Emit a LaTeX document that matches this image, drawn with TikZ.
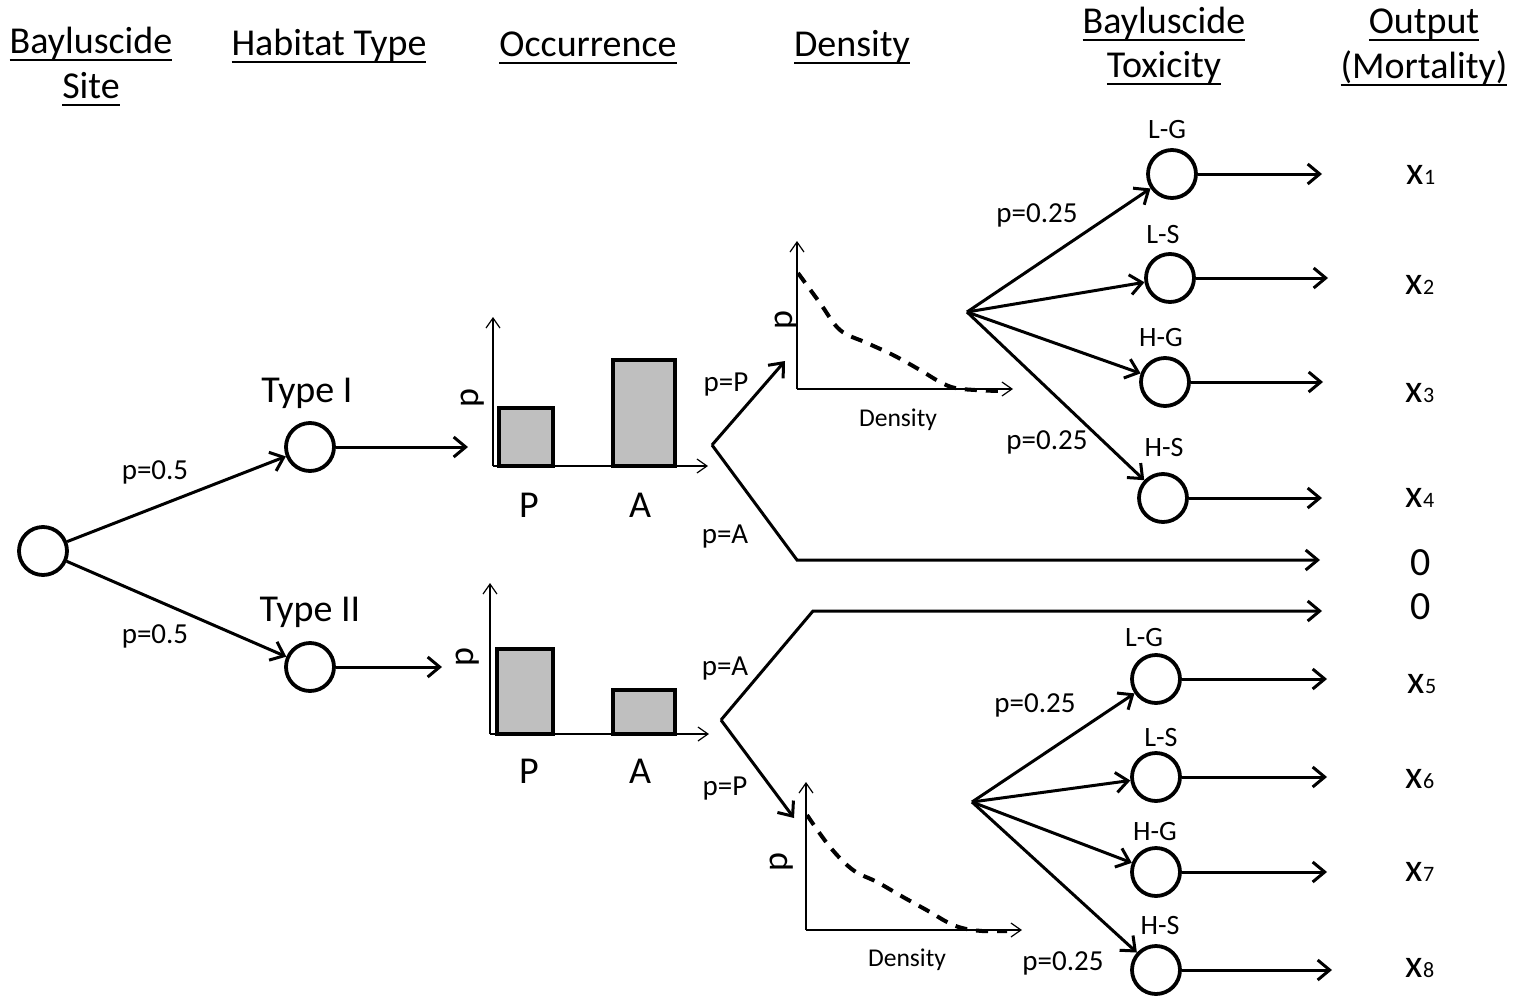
\documentclass[tikz,border=0pt]{standalone}
\usepackage{fontspec}
\setmainfont{Carlito}
\usetikzlibrary{arrows.meta}
\definecolor{barfill}{HTML}{BFBFBF}
\newcommand\myul[1]{\leavevmode\setbox0=\hbox{#1}\rlap{\rule[-0.22em]{\wd0}{1.2pt}}\box0}
\begin{document}
\begin{tikzpicture}[x=0.5pt,y=-0.5pt,
  state/.style={circle,draw,line width=1.9pt,minimum size=24pt,inner sep=0pt},
  conn/.style={line width=1.5pt,-{Straight Barb[length=6pt,width=10pt,line width=1.5pt]}},
  plain/.style={line width=1.5pt},
  axis/.style={line width=0.6pt,-{Straight Barb[length=5pt,width=7pt]}},
  bar/.style={draw,line width=2pt,fill=barfill},
  curve/.style={line width=2pt,dash pattern=on 6pt off 4.5pt},
  hdr/.style={font=\fontsize{19}{22}\selectfont,anchor=base,inner sep=0pt},
  big/.style={font=\fontsize{19}{22}\selectfont},
  zero/.style={font=\fontsize{20}{22}\selectfont},
  plab/.style={font=\fontsize{14.5}{16}\selectfont},
  tlab/.style={font=\fontsize{14}{16}\selectfont},
  small/.style={font=\fontsize{12.8}{14}\selectfont},
  ylab/.style={font=\fontsize{18}{20}\selectfont,rotate=90}
]
\useasboundingbox (0,0) rectangle (1516,996);

% headers
\node[hdr] (h1a) at (91,53) {\myul{Bayluscide}};
\node[hdr] (h1b) at (91,98) {\myul{Site}};
\node[hdr] (h2) at (329,55) {\myul{Habitat Type}};
\node[hdr] (h3) at (588,56) {\myul{Occurrence}};
\node[hdr] (h4) at (852,56) {\myul{Density}};
\node[hdr] (h5a) at (1164,33) {\myul{Bayluscide}};
\node[hdr] (h5b) at (1164,77) {\myul{Toxicity}};
\node[hdr] (h6a) at (1424,33) {\myul{Output}};
\node[hdr] (h6b) at (1424,78) {\myul{(Mortality)}};

% root and habitat
\node[state] (root) at (43,551) {};
\node[state] (t1) at (310,447) {};
\node[state] (t2) at (310,667) {};
\node[big] (t1l) at (307,393) {Type I};
\node[big] (t2l) at (310,612) {Type II};
\draw[conn] (root) -- (t1);
\draw[conn] (root) -- (t2);
\node[plab] (p05a) at (155,472) {p=0.5};
\node[plab] (p05b) at (155,636) {p=0.5};
\coordinate (o1) at (468,447);
\coordinate (o2) at (442,667);
\draw[conn] (t1) -- (o1);
\draw[conn] (t2) -- (o2);

% top bar chart
\draw[bar] (499,408) rectangle (553,466);
\draw[bar] (613,360) rectangle (675,466);
\coordinate (ba1) at (493,466);
\coordinate (ba1y) at (493,317);
\coordinate (ba1x) at (708,466);
\draw[axis] (ba1) -- (ba1y);
\draw[axis] (ba1) -- (ba1x);
\node[ylab] (bp1) at (473,398) {p};
\node[big] (bP1) at (529,505) {P};
\node[big] (bA1) at (640,505) {A};

% bottom bar chart
\draw[bar] (497,649) rectangle (553,734);
\draw[bar] (613,690) rectangle (675,734);
\coordinate (ba2) at (490,734);
\coordinate (ba2y) at (490,583);
\coordinate (ba2x) at (709,734);
\draw[axis] (ba2) -- (ba2y);
\draw[axis] (ba2) -- (ba2x);
\node[ylab] (bp2) at (468,657) {p};
\node[big] (bP2) at (529,771) {P};
\node[big] (bA2) at (640,771) {A};

% occurrence forks
\coordinate (f1) at (712,445);
\coordinate (d1) at (785,361);
\coordinate (c1) at (797,560);
\coordinate (z1) at (1320,560);
\draw[conn] (f1) -- (d1);
\draw[conn] (f1) -- (c1) -- (z1);
\node[plab] (pP1) at (726,385) {p=P};
\node[plab] (pA1) at (725,537) {p=A};

\coordinate (f2) at (721,720);
\coordinate (c2) at (813,611);
\coordinate (z2) at (1322,611);
\coordinate (d2) at (794,818);
\draw[conn] (f2) -- (c2) -- (z2);
\draw[conn] (f2) -- (d2);
\node[plab] (pA2) at (725,669) {p=A};
\node[plab] (pP2) at (725,789) {p=P};

% top density chart
\coordinate (da1) at (797,389);
\coordinate (da1y) at (797,241);
\coordinate (da1x) at (1013,389);
\draw[axis] (da1) -- (da1y);
\draw[axis] (da1) -- (da1x);
\draw[curve] plot[smooth,tension=0.6] coordinates {(798,273) (820,303) (840,330) (867,343) (893,355) (920,370) (940,382) (955,388) (975,390) (998,391)};
\node[ylab] (dp1) at (787,320) {p};
\node[small] (dl1) at (898,420) {Density};

% bottom density chart
\coordinate (da2) at (806,930);
\coordinate (da2y) at (806,782);
\coordinate (da2x) at (1022,930);
\draw[axis] (da2) -- (da2y);
\draw[axis] (da2) -- (da2x);
\draw[curve] plot[smooth,tension=0.6] coordinates {(807,815) (830,847) (853,870) (877,882) (903,897) (930,912) (947,922) (962,928) (982,931) (1007,931)};
\node[ylab] (dp2) at (782,862) {p};
\node[small] (dl2) at (907,960) {Density};

% toxicity top
\coordinate (g1) at (967,312);
\node[state] (a1) at (1172,174) {};
\node[state] (a2) at (1170,278) {};
\node[state] (a3) at (1165,382) {};
\node[state] (a4) at (1163,498) {};
\node[tlab] (a1l) at (1167,130) {L-G};
\node[tlab] (a2l) at (1163,235) {L-S};
\node[tlab] (a3l) at (1161,338) {H-G};
\node[tlab] (a4l) at (1164,448) {H-S};
\draw[conn] (g1) -- (a1);
\draw[conn] (g1) -- (a2);
\draw[conn] (g1) -- (a3);
\draw[conn] (g1) -- (a4);
\node[plab] (pq1) at (1037,215) {p=0.25};
\node[plab] (pq2) at (1047,442) {p=0.25};
\coordinate (ea1) at (1322,174);
\coordinate (ea2) at (1328,278);
\coordinate (ea3) at (1323,382);
\coordinate (ea4) at (1322,498);
\draw[conn] (a1) -- (ea1);
\draw[conn] (a2) -- (ea2);
\draw[conn] (a3) -- (ea3);
\draw[conn] (a4) -- (ea4);

% toxicity bottom
\coordinate (g2) at (972,802);
\node[state] (b1) at (1156,679) {};
\node[state] (b2) at (1156,777) {};
\node[state] (b3) at (1156,872) {};
\node[state] (b4) at (1156,970) {};
\node[tlab] (b1l) at (1144,638) {L-G};
\node[tlab] (b2l) at (1161,738) {L-S};
\node[tlab] (b3l) at (1155,832) {H-G};
\node[tlab] (b4l) at (1160,925) {H-S};
\draw[conn] (g2) -- (b1);
\draw[conn] (g2) -- (b2);
\draw[conn] (g2) -- (b3);
\draw[conn] (g2) -- (b4);
\node[plab] (pq3) at (1035,705) {p=0.25};
\node[plab] (pq4) at (1063,963) {p=0.25};
\coordinate (eb1) at (1327,679);
\coordinate (eb2) at (1327,777);
\coordinate (eb3) at (1327,872);
\coordinate (eb4) at (1332,970);
\draw[conn] (b1) -- (eb1);
\draw[conn] (b2) -- (eb2);
\draw[conn] (b3) -- (eb3);
\draw[conn] (b4) -- (eb4);

% outputs
\newcommand\outx[1]{{\fontsize{20}{22}\selectfont x}{\fontsize{11}{12}\selectfont #1}}
\node (x1) at (1421,175) {\outx{1}};
\node (x2) at (1420,285) {\outx{2}};
\node (x3) at (1420,393) {\outx{3}};
\node (x4) at (1420,498) {\outx{4}};
\node[zero] (o0a) at (1421,563) {0};
\node[zero] (o0b) at (1421,607) {0};
\node (x5) at (1422,684) {\outx{5}};
\node (x6) at (1420,779) {\outx{6}};
\node (x7) at (1420,872) {\outx{7}};
\node (x8) at (1420,968) {\outx{8}};
\end{tikzpicture}
\end{document}
